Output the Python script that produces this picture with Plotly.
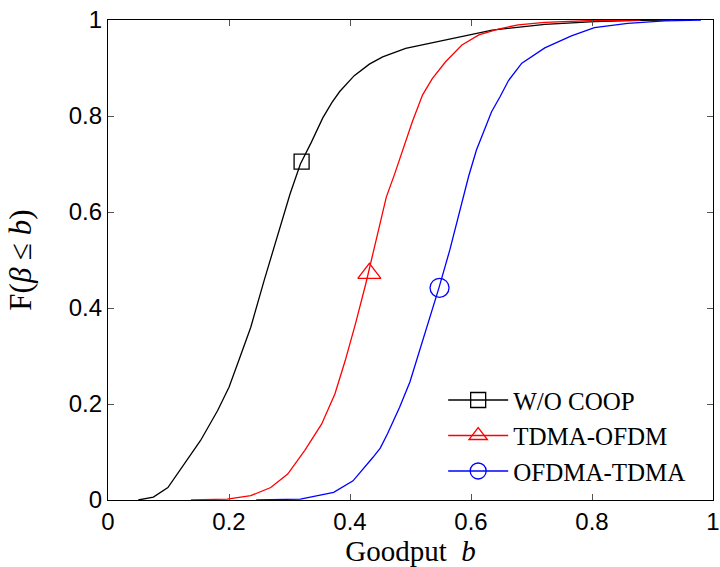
import plotly.graph_objects as go

# ---- data ----
x_ticks = [0, 0.2, 0.4, 0.6, 0.8, 1]
x_tick_labels = ["0", "0.2", "0.4", "0.6", "0.8", "1"]
y_ticks = [0, 0.2, 0.4, 0.6, 0.8, 1]
y_tick_labels = ["0", "0.2", "0.4", "0.6", "0.8", "1"]

series_names = ["W/O COOP", "TDMA-OFDM", "OFDMA-TDMA"]

wo_coop_b = [0.050, 0.075, 0.099, 0.126, 0.153, 0.181, 0.200, 0.216, 0.236, 0.258,
             0.279, 0.301, 0.318, 0.336, 0.355, 0.370, 0.383, 0.407, 0.432, 0.454, 0.492,
             0.547, 0.602, 0.635, 0.722, 0.804, 0.880, 0.930]
wo_coop_F = [0.000, 0.006, 0.026, 0.075, 0.124, 0.186, 0.235, 0.290, 0.360, 0.457,
             0.547, 0.638, 0.700, 0.745, 0.796, 0.828, 0.851, 0.884, 0.908, 0.923, 0.941,
             0.956, 0.970, 0.979, 0.991, 0.9965, 0.9995, 1.000]

tdma_ofdm_b = [0.137, 0.197, 0.236, 0.269, 0.297, 0.325, 0.353, 0.375, 0.392, 0.409,
               0.426, 0.443, 0.460, 0.474, 0.492, 0.503, 0.520, 0.536, 0.558, 0.585,
               0.613, 0.645, 0.678, 0.722, 0.800, 0.880]
tdma_ofdm_F = [0.000, 0.002, 0.009, 0.026, 0.054, 0.103, 0.158, 0.221, 0.290, 0.367,
               0.450, 0.540, 0.631, 0.680, 0.748, 0.788, 0.844, 0.878, 0.913, 0.948,
               0.969, 0.981, 0.990, 0.995, 0.999, 1.000]

ofdma_tdma_b = [0.245, 0.318, 0.373, 0.405, 0.438, 0.450, 0.462, 0.482, 0.499, 0.517,
                0.547, 0.565, 0.582, 0.596, 0.609, 0.620, 0.634, 0.648, 0.662, 0.684,
                0.722, 0.766, 0.804, 0.859, 0.920, 0.980]
ofdma_tdma_F = [0.000, 0.002, 0.016, 0.040, 0.089, 0.108, 0.138, 0.193, 0.246, 0.318,
                0.442, 0.521, 0.604, 0.674, 0.729, 0.765, 0.809, 0.840, 0.874, 0.910,
                0.942, 0.967, 0.984, 0.993, 0.998, 1.000]

marker_b = [0.320, 0.432, 0.548]
marker_F = [0.705, 0.472, 0.442]

colors = ["#000000", "#ff0000", "#0000ff"]
symbols = ["square-open", "triangle-up-open", "circle-open"]
marker_sizes = [15, 20, 19]

curves_b = [wo_coop_b, tdma_ofdm_b, ofdma_tdma_b]
curves_F = [wo_coop_F, tdma_ofdm_F, ofdma_tdma_F]

SERIF = "Liberation Serif"
SANS = "Liberation Sans"

fig = go.Figure()
for i in range(3):
    fig.add_trace(go.Scatter(
        x=curves_b[i], y=curves_F[i], mode="lines",
        line=dict(color=colors[i], width=1.3),
        showlegend=False, hoverinfo="skip"))
for i in range(3):
    fig.add_trace(go.Scatter(
        x=[marker_b[i]], y=[marker_F[i]], mode="lines+markers",
        name=series_names[i],
        line=dict(color=colors[i], width=1.3),
        marker=dict(symbol=symbols[i], size=marker_sizes[i], color=colors[i],
                    line=dict(color=colors[i], width=1.3))))

axis_common = dict(
    showgrid=False, zeroline=False, showline=True, linecolor="black", linewidth=1.3,
    mirror="ticks", ticks="inside", ticklen=6, tickcolor="#555555", tickwidth=1,
    automargin=False,
    tickfont=dict(family=SANS, size=24, color="black"),
)

fig.update_layout(
    width=720, height=567,
    margin=dict(l=108, r=7, t=20, b=67),
    paper_bgcolor="white", plot_bgcolor="white",
    font=dict(family=SERIF, color="black"),
    xaxis=dict(range=[0, 1], tickvals=x_ticks, ticktext=x_tick_labels,
               title=dict(text="Goodput  <i>b</i>", standoff=6,
                          font=dict(family=SERIF, size=29, color="black")),
               **axis_common),
    yaxis=dict(range=[0, 1], tickvals=y_ticks, ticktext=y_tick_labels,
               title=dict(text="F(<i>β</i> ≤ <i>b</i>)", standoff=27,
                          font=dict(family=SERIF, size=31, color="black")),
               **axis_common),
    legend=dict(x=0.554, y=0.012, xanchor="left", yanchor="bottom",
                bgcolor="rgba(255,255,255,0)", borderwidth=0,
                font=dict(family=SERIF, size=25, color="black"),
                tracegroupgap=0, itemwidth=60),
)

fig.write_html("out.html")
